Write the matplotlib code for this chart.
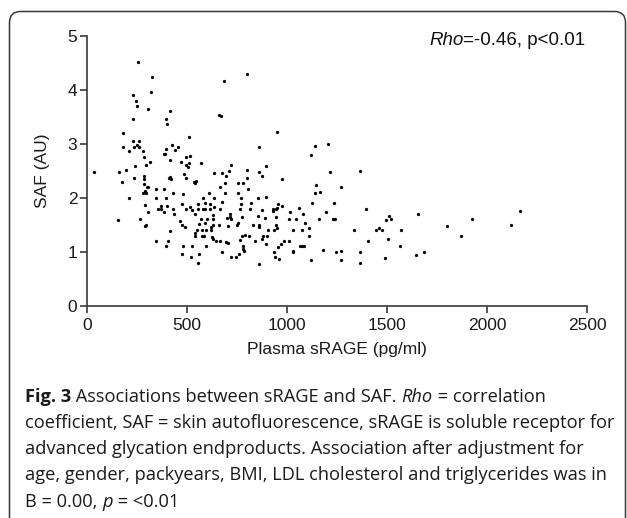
import matplotlib
matplotlib.use("Agg")
import matplotlib.pyplot as plt
from matplotlib.patches import FancyBboxPatch

# ---------------- data ----------------
srage = [
    255, 325, 318, 228, 247, 248, 303, 230, 393, 400, 178, 230, 260, 182, 208, 237, 260, 248,
    280, 287, 393, 385, 392, 242, 293, 313,
    802, 687, 417, 662, 668, 510, 423, 440, 457, 495, 515, 510, 495, 503, 470, 415, 570, 720,
    798, 485, 493, 412, 420, 416, 537, 545, 542, 478, 432, 612, 633, 675, 695, 710, 688, 663,
    690, 755, 778, 802, 755, 805,
    35, 158, 195, 175, 233, 287, 287, 285, 300, 307, 292, 282, 295, 347, 387, 210, 343, 393,
    290, 307, 353, 370, 372, 400, 387, 430, 437, 153, 263, 293, 290, 415, 343, 405, 393,
    582, 635, 768, 855, 477, 557, 588, 615, 675, 768, 822, 493, 513, 527, 553, 580, 592, 613,
    635, 667, 767, 813, 542, 628, 717, 715, 572, 600, 628, 698, 720, 775, 855, 465, 477, 492,
    560, 588, 618, 632, 662, 703, 748, 755, 828, 860, 550, 540, 538, 575, 593, 577, 587, 618,
    625, 632, 647, 665, 693, 707, 777, 792, 810, 763, 478, 525, 593, 778, 780, 785, 473, 518,
    562, 675, 720, 747, 758, 555, 862,
    948, 860, 1142, 1205, 1122, 897, 860, 877, 973, 1213, 1145, 1140, 1167, 1272, 897, 1127,
    1233, 955, 977, 875, 932, 928, 943, 952, 1058, 1017, 1080, 1195, 888, 947, 1012, 1043,
    1162, 1230, 1242, 1090, 862, 947, 950, 935, 903, 1032, 1075, 1110, 1110, 882, 898, 875,
    897, 840, 1008, 985, 972, 957, 935, 942, 958, 1032, 1028, 1063, 1077, 1087, 1182, 1247,
    1272, 1122, 1270,
    1365, 1393, 1510, 1497, 1522, 1657, 1335, 1447, 1460, 1477, 1570, 1407, 1507, 1565, 1798,
    1872, 1925, 2120, 2163, 1367, 1367, 1488, 1643, 1687,
]
saf = [
    4.52, 4.24, 3.95, 3.90, 3.79, 3.70, 3.64, 3.45, 3.45, 3.37, 3.19, 3.05, 3.05, 2.93, 2.87, 2.94, 2.94, 2.97,
    2.87, 2.76, 2.90, 2.81, 2.81, 2.59, 2.60, 2.66,
    4.29, 4.16, 3.60, 3.53, 3.52, 3.12, 2.98, 2.88, 2.93, 2.75, 2.77, 2.65, 2.60, 2.56, 2.67, 2.69, 2.64, 2.60,
    2.52, 2.44, 2.37, 2.36, 2.34, 2.38, 2.30, 2.31, 2.28, 2.06, 2.09, 2.09, 2.46, 2.46, 2.41, 2.49, 2.28, 2.20,
    2.09, 2.27, 2.27, 2.36, 2.09, 2.16,
    2.47, 2.47, 2.51, 2.29, 2.37, 2.40, 2.35, 2.25, 2.19, 2.20, 2.13, 2.09, 2.09, 2.16, 2.16, 2.00, 2.00, 2.00,
    1.86, 1.74, 1.80, 1.80, 1.85, 1.85, 1.73, 1.80, 1.70, 1.59, 1.61, 1.50, 1.48, 1.39, 1.20, 1.20, 1.10,
    2.00, 2.00, 2.00, 2.00, 1.89, 1.89, 1.90, 1.88, 1.92, 1.88, 1.90, 1.79, 1.82, 1.78, 1.80, 1.79, 1.79, 1.80,
    1.82, 1.80, 1.79, 1.80, 1.70, 1.68, 1.69, 1.64, 1.60, 1.61, 1.60, 1.62, 1.60, 1.64, 1.66, 1.57, 1.50, 1.45,
    1.51, 1.53, 1.45, 1.50, 1.49, 1.48, 1.50, 1.54, 1.50, 1.46, 1.40, 1.34, 1.30, 1.40, 1.40, 1.30, 1.30, 1.40,
    1.28, 1.23, 1.19, 1.20, 1.18, 1.16, 1.30, 1.31, 1.30, 1.22, 1.11, 1.11, 1.11, 1.10, 1.05, 1.01, 0.95, 0.90,
    0.96, 1.00, 0.90, 0.90, 0.96, 0.80, 0.77,
    3.21, 2.93, 2.95, 2.99, 2.80, 2.59, 2.47, 2.40, 2.35, 2.47, 2.24, 2.09, 2.11, 2.20, 2.01, 1.90,
    1.90, 1.89, 1.85, 1.78, 1.79, 1.75, 1.79, 1.81, 1.81, 1.73, 1.70, 1.73, 1.62, 1.64, 1.61, 1.61,
    1.61, 1.61, 1.61, 1.53, 1.49, 1.50, 1.44, 1.41, 1.41, 1.40, 1.40, 1.43, 1.30, 1.29, 1.29, 1.23,
    1.15, 1.20, 1.20, 1.19, 1.15, 1.08, 1.00, 0.91, 0.86, 1.02, 0.99, 1.11, 1.11, 1.11, 1.03, 0.99,
    1.02, 0.84, 0.85,
    2.50, 1.79, 1.67, 1.59, 1.60, 1.70, 1.40, 1.40, 1.43, 1.40, 1.40, 1.20, 1.23, 1.10, 1.48,
    1.30, 1.60, 1.50, 1.75, 1.00, 0.80, 0.88, 0.94, 1.00,
]
x_ticks = [0, 500, 1000, 1500, 2000, 2500]
y_ticks = [0, 1, 2, 3, 4, 5]
x_label = "Plasma sRAGE (pg/ml)"
y_label = "SAF (AU)"
caption_lines = [
    [("Fig. 3", "bold"), (" Associations between sRAGE and SAF. ", "normal"), ("Rho", "italic"), (" = correlation", "normal")],
    [("coefficient, SAF = skin autofluorescence, sRAGE is soluble receptor for", "normal")],
    [("advanced glycation endproducts. Association after adjustment for", "normal")],
    [("age, gender, packyears, BMI, LDL cholesterol and triglycerides was in", "normal")],
    [("B = 0.00, ", "normal"), ("p", "italic"), (" = <0.01", "normal")],
]
stat_pieces = [("Rho", "italic"), ("=-0.46, p<0.01", "normal")]

# ---------------- figure ----------------
W, H = 627, 518
fig = plt.figure(figsize=(W / 100, H / 100), dpi=100)
fig.patch.set_facecolor("white")

bg = fig.add_axes([0, 0, 1, 1], zorder=0)
bg.set_xlim(0, W)
bg.set_ylim(H, 0)
bg.axis("off")
box = FancyBboxPatch((9.5, 11.5), 616, 540, boxstyle="round,pad=0,rounding_size=11",
                     fc="white", ec="#3a3a3a", lw=1.1, clip_on=False)
bg.add_patch(box)

renderer = fig.canvas.get_renderer()


def style_kw(style, family, size):
    kw = dict(family=family, fontsize=size)
    if style == "bold":
        kw["fontweight"] = "bold"
    elif style == "italic":
        kw["fontstyle"] = "italic"
    return kw


def text_width(s, **kw):
    t1 = bg.text(0, 0, "|" + s + "|", **kw)
    w1 = t1.get_window_extent(renderer).width
    t1.remove()
    t2 = bg.text(0, 0, "||", **kw)
    w2 = t2.get_window_extent(renderer).width
    t2.remove()
    return w1 - w2


def draw_pieces(x, y, pieces, family, size, color):
    for s, style in pieces:
        kw = style_kw(style, family, size)
        bg.text(x, y, s, va="baseline", ha="left", color=color, **kw)
        x += text_width(s, **kw)


# caption, fitted so line 2 spans the reference width
cap_family = "Open Sans"
w12 = text_width(caption_lines[1][0][0], **style_kw("normal", cap_family, 12))
cap_size = 12 * 587.0 / w12
baselines = [401.5, 428, 454.3, 480.5, 506.8]
for pieces, yb in zip(caption_lines, baselines):
    draw_pieces(25, yb, pieces, cap_family, cap_size, "#1a1a1a")

# statistic annotation
draw_pieces(429, 45, stat_pieces, "Liberation Sans", 13.5, "#111111")

# ---------------- scatter axes ----------------
ax = fig.add_axes([87 / W, 1 - 305.7 / H, 500 / W, 270 / H], zorder=1)
ax.patch.set_alpha(0)
ax.scatter(srage, saf, s=5.5, c="black", linewidths=0, zorder=3)
ax.set_xlim(0, 2500)
ax.set_ylim(0, 5)
ax.set_xticks(x_ticks)
ax.set_yticks(y_ticks)
ax.set_xticklabels([str(v) for v in x_ticks])
ax.set_yticklabels([str(v) for v in y_ticks])
for side in ("top", "right"):
    ax.spines[side].set_visible(False)
for side in ("left", "bottom"):
    ax.spines[side].set_linewidth(1.2)
    ax.spines[side].set_color("#3a3a3a")
ax.tick_params(axis="both", direction="out", length=5, width=1.2, color="#3a3a3a",
               labelsize=12.5, labelcolor="#1a1a1a")
ax.tick_params(axis="x", pad=4)
ax.tick_params(axis="y", pad=2)
for lab in ax.get_xticklabels() + ax.get_yticklabels():
    lab.set_family("Liberation Sans")
ax.set_xlabel(x_label, family="Liberation Sans", fontsize=12.5, color="#1a1a1a")
ax.set_ylabel(y_label, family="Liberation Sans", fontsize=12.5, color="#1a1a1a")
ax.xaxis.set_label_coords(0.5, -0.135)
ax.yaxis.set_label_coords(-0.075, 0.5)

fig.savefig("out.png", dpi=100, facecolor="white")
